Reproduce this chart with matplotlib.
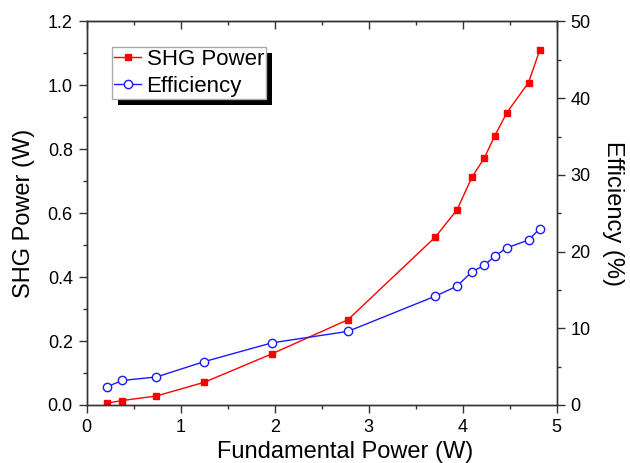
import matplotlib.pyplot as plt
from matplotlib.ticker import MultipleLocator
from matplotlib.patches import Rectangle

plt.rcParams['font.family'] = ['Liberation Sans', 'DejaVu Sans']

# Data
fundamental = [0.22, 0.38, 0.74, 1.25, 1.97, 2.78, 3.71, 3.94, 4.10, 4.23, 4.34, 4.47, 4.70, 4.82]
shg_power = [0.006, 0.014, 0.028, 0.071, 0.160, 0.267, 0.526, 0.611, 0.714, 0.773, 0.842, 0.915, 1.009, 1.111]
efficiency = [2.4, 3.2, 3.65, 5.65, 8.1, 9.6, 14.2, 15.5, 17.4, 18.2, 19.4, 20.5, 21.5, 23.0]

fig = plt.figure(figsize=(6.3, 4.63), dpi=100)
ax = fig.add_axes([0.1376, 0.1253, 0.7461, 0.8283])
ax2 = ax.twinx()

l1, = ax.plot(fundamental, shg_power, color='#ff0000', lw=1.0, marker='s',
              markersize=5, markeredgecolor='#ff0000', label='SHG Power')
l2, = ax2.plot(fundamental, efficiency, color='#1a1aff', lw=1.0, marker='o',
               markersize=6, markerfacecolor='white', markeredgecolor='#1a1aff',
               markeredgewidth=1.0, label='Efficiency')

ax.set_xlim(0, 5)
ax.set_ylim(0, 1.2)
ax2.set_ylim(0, 50)

ax.xaxis.set_major_locator(MultipleLocator(1))
ax.xaxis.set_minor_locator(MultipleLocator(0.5))
ax.yaxis.set_major_locator(MultipleLocator(0.2))
ax.yaxis.set_minor_locator(MultipleLocator(0.1))
ax2.yaxis.set_major_locator(MultipleLocator(10))
ax2.yaxis.set_minor_locator(MultipleLocator(5))

ax.yaxis.set_major_formatter(plt.FuncFormatter(lambda v, p: f'{v:.1f}'))

spine_color = '#333333'
for a in (ax, ax2):
    for s in a.spines.values():
        s.set_color(spine_color)
        s.set_linewidth(1.0)

ax.tick_params(which='major', direction='out', length=6, width=1, color=spine_color,
               labelsize=13, pad=4)
ax.tick_params(which='minor', direction='out', length=3, width=1, color=spine_color)
ax2.tick_params(which='major', direction='out', length=6, width=1, color=spine_color,
                labelsize=13, pad=4)
ax2.tick_params(which='minor', direction='out', length=3, width=1, color=spine_color)

top = ax.secondary_xaxis('top')
top.xaxis.set_major_locator(MultipleLocator(1))
top.xaxis.set_minor_locator(MultipleLocator(0.5))
top.tick_params(which='major', direction='in', length=6, width=1, color=spine_color, labeltop=False)
top.tick_params(which='minor', direction='in', length=3, width=1, color=spine_color)
top.spines['top'].set_color(spine_color)

ax.set_xlabel('Fundamental Power (W)', fontsize=17)
ax.xaxis.set_label_coords(0.55, -0.093)
ax.set_ylabel('SHG Power (W)', fontsize=17, labelpad=9)
ax2.set_ylabel('Efficiency (%)', fontsize=17, rotation=270, labelpad=24)

leg = ax2.legend(handles=[l1, l2], loc='upper left', bbox_to_anchor=(0.054, 0.934),
                 fontsize=16, frameon=True, fancybox=False, shadow=False,
                 handlelength=1.2, handletextpad=0.25, borderpad=0.1, labelspacing=0.25,
                 borderaxespad=0)
leg.get_frame().set_edgecolor('#aaaaaa')
leg.get_frame().set_linewidth(1.0)
leg.get_frame().set_alpha(1)

# black drop shadow behind the legend box
fig.canvas.draw()
bb = leg.get_frame().get_window_extent()
shadow = Rectangle((bb.x0 + 5.5, bb.y0 - 6), bb.width, bb.height, transform=None,
                   facecolor='black', edgecolor='none', zorder=4.5)
ax2.add_artist(shadow)

fig.savefig('out.png', dpi=100)
